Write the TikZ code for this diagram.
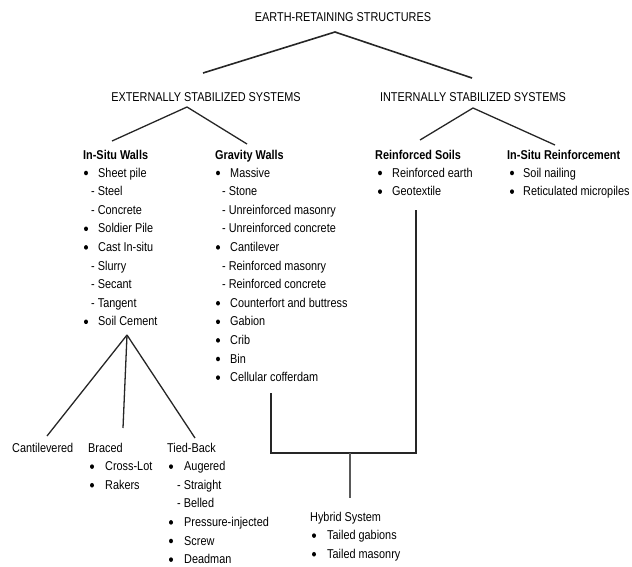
\documentclass[tikz,border=0pt]{standalone}
\usepackage{fontspec}
\usetikzlibrary{shapes.geometric}
\setmainfont{Liberation Sans}[FakeStretch=0.85]
\begin{document}
\begin{tikzpicture}[x=1pt,y=-1pt,
  txt/.style={inner sep=0pt,anchor=base west,font=\fontsize{12.8}{14}\selectfont},
  ctxt/.style={inner sep=0pt,anchor=base,font=\fontsize{12.8}{14}\selectfont},
  head/.style={txt,font=\fontsize{12.8}{14}\selectfont\bfseries},
  dot/.style={ellipse,fill=black,inner sep=0pt,minimum width=4pt,minimum height=4.6pt},
  lineA/.style={line width=1.6pt,black!85},
  lineB/.style={line width=1.3pt,black!85},
  brk/.style={line width=2pt,black!85},
  stem/.style={line width=1.2pt,black!65}]
\useasboundingbox (0,0) rectangle (632,566);

% titles
\node[ctxt] (root) at (343,21) {EARTH-RETAINING STRUCTURES};
\node[ctxt] (ext) at (206,101) {EXTERNALLY STABILIZED SYSTEMS};
\node[ctxt] (int) at (473,101) {INTERNALLY STABILIZED SYSTEMS};

\coordinate (rA) at (335,32);
\coordinate (rL) at (203,73);
\coordinate (rR) at (472,78);
\draw[lineA] (rL) -- (rA) -- (rR);

\coordinate (eA) at (187,107);
\coordinate (eL) at (112,141);
\coordinate (eR) at (247,144);
\draw[lineB] (eL) -- (eA) -- (eR);

\coordinate (iA) at (473,108);
\coordinate (iL) at (420,140);
\coordinate (iR) at (555,145);
\draw[lineB] (iL) -- (iA) -- (iR);

% headings
\node[head] (isw) at (83,159) {In-Situ Walls};
\node[head] (grw) at (215,159) {Gravity Walls};
\node[head] (rs) at (375,159) {Reinforced Soils};
\node[head] (isr) at (507,159) {In-Situ Reinforcement};

% In-Situ Walls list
\foreach \t/\k [count=\i from 0] in {Sheet pile/b,Steel/d,Concrete/d,Soldier Pile/b,Cast In-situ/b,Slurry/d,Secant/d,Tangent/d,Soil Cement/b}{
  \pgfmathsetmacro{\yy}{177+18.6*\i}
  \if b\k
    \node[dot] (iswb\i) at (86,\yy-4) {};
    \node[txt] (iswt\i) at (98,\yy) {\t};
  \else
    \node[txt] (iswt\i) at (91,\yy) {- \t};
  \fi
}

% Gravity Walls list
\foreach \t/\k [count=\i from 0] in {Massive/b,Stone/d,Unreinforced masonry/d,Unreinforced concrete/d,Cantilever/b,Reinforced masonry/d,Reinforced concrete/d,Counterfort and buttress/b,Gabion/b,Crib/b,Bin/b,Cellular cofferdam/b}{
  \pgfmathsetmacro{\yy}{177+18.6*\i}
  \if b\k
    \node[dot] (grwb\i) at (218,\yy-4) {};
    \node[txt] (grwt\i) at (230,\yy) {\t};
  \else
    \node[txt] (grwt\i) at (222,\yy) {- \t};
  \fi
}

% Reinforced Soils list
\foreach \t [count=\i from 0] in {Reinforced earth,Geotextile}{
  \pgfmathsetmacro{\yy}{177+18.6*\i}
  \node[dot] (rsb\i) at (380,\yy-4) {};
  \node[txt] (rst\i) at (392,\yy) {\t};
}

% In-Situ Reinforcement list
\foreach \t [count=\i from 0] in {Soil nailing,Reticulated micropiles}{
  \pgfmathsetmacro{\yy}{177+18.6*\i}
  \node[dot] (isrb\i) at (512,\yy-4) {};
  \node[txt] (isrt\i) at (523,\yy) {\t};
}

% Soil cement branches
\coordinate (sA) at (127,335);
\coordinate (sL) at (47,436);
\coordinate (sM) at (123,428);
\coordinate (sR) at (195,438);
\draw[lineB] (sA) -- (sL);
\draw[lineB] (sA) -- (sM);
\draw[lineB] (sA) -- (sR);

\node[txt] (cant) at (12,452) {Cantilevered};
\node[txt] (brc) at (88,452) {Braced};
\node[txt] (tb) at (167,452) {Tied-Back};

\foreach \t [count=\i from 0] in {Cross-Lot,Rakers}{
  \pgfmathsetmacro{\yy}{470.6+18.6*\i}
  \node[dot] (brcb\i) at (92,\yy-4) {};
  \node[txt] (brct\i) at (105,\yy) {\t};
}

\foreach \t/\k [count=\i from 0] in {Augered/b,Straight/d,Belled/d,Pressure-injected/b,Screw/b,Deadman/b}{
  \pgfmathsetmacro{\yy}{470.6+18.6*\i}
  \if b\k
    \node[dot] (tbb\i) at (171,\yy-4) {};
    \node[txt] (tbt\i) at (184,\yy) {\t};
  \else
    \node[txt] (tbt\i) at (177,\yy) {- \t};
  \fi
}

% Hybrid bracket
\coordinate (hL) at (271,393);
\coordinate (hLB) at (271,453);
\coordinate (hRB) at (416,453);
\coordinate (hR) at (416,210);
\draw[brk] (hL) -- (hLB) -- (hRB) -- (hR);
\coordinate (hS) at (350,453);
\coordinate (hE) at (350,498);
\draw[stem] (hS) -- (hE);

\node[txt] (hyb) at (310,521) {Hybrid System};
\foreach \t [count=\i from 0] in {Tailed gabions,Tailed masonry}{
  \pgfmathsetmacro{\yy}{539.6+18.6*\i}
  \node[dot] (hybb\i) at (314,\yy-4) {};
  \node[txt] (hybt\i) at (327,\yy) {\t};
}
\end{tikzpicture}
\end{document}
